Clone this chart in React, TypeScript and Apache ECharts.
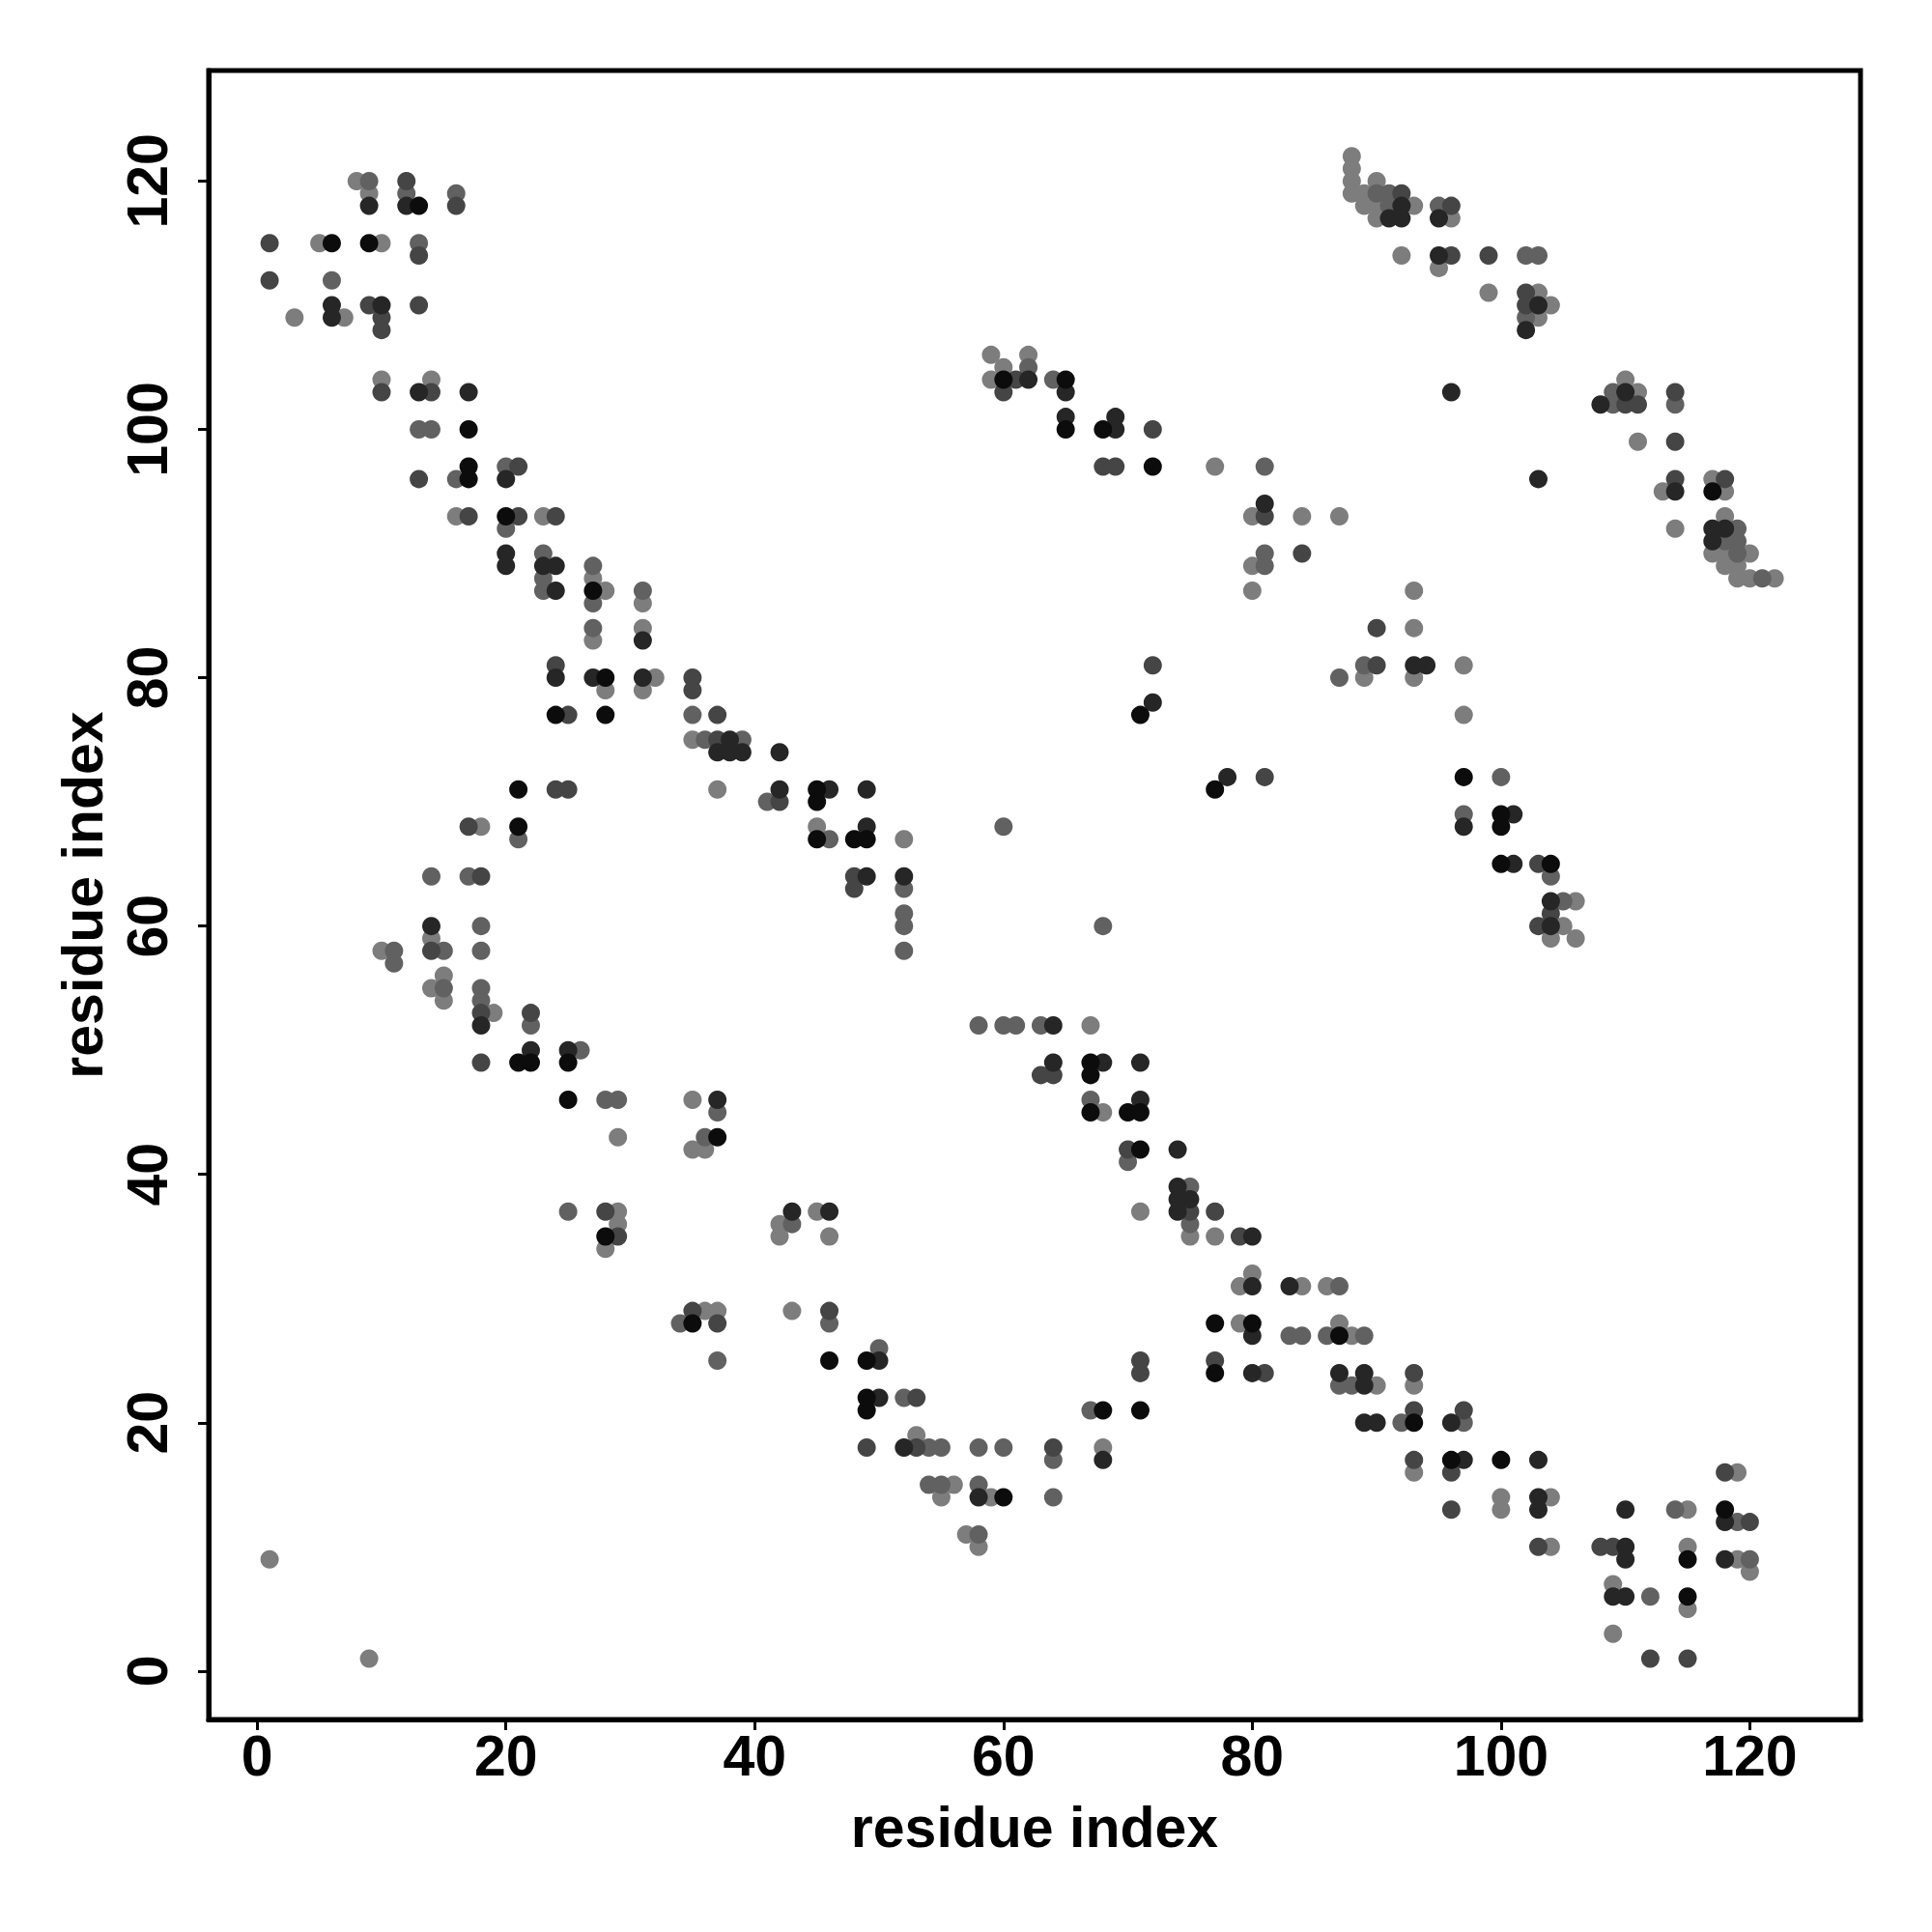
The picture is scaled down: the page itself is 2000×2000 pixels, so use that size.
import React, { useEffect, useRef } from "react";
import * as echarts from "echarts";

// residue-contact pairs [i, j], grouped by grey shade (darkest -> lightest)
const contactsBlack: [number, number][] = [
  [13,118],[6,115],[9,115],[17,100],[17,97],[17,96],[20,93],[27,87],
  [28,80],[24,77],[28,77],[21,71],[21,68],[21,49],[22,49],[25,49],[25,46],[37,43],
  [28,35],[35,28],[60,104],[65,104],[65,100],[68,100],[72,97],[71,77],
  [45,71],[45,70],[45,67],[48,67],[49,67],[77,71],[67,49],[67,48],[67,45],[70,45],[71,45],[71,42],
  [77,28],[80,28],[77,24],[71,21],[68,21],[46,25],[49,25],[49,22],[49,21],[60,14],
  [117,95],[97,72],[100,69],[100,68],[100,65],[104,65],[87,27],[93,20],[96,17],[100,17],
  [115,9],[115,6],[118,13],
];
const contactsDark: [number, number][] = [
  [9,118],[12,118],[6,110],[6,109],[10,110],[13,103],[17,103],[20,96],[20,90],[20,89],
  [23,89],[24,89],[24,87],[31,83],[24,80],[27,80],[31,80],[38,75],[37,74],[38,74],[39,74],
  [14,60],[18,52],[22,50],[25,50],[37,46],[62,104],[65,103],[65,101],[69,101],[69,100],
  [81,94],[72,78],[42,74],[42,71],[46,71],[49,71],[49,68],[49,64],[52,64],[78,72],[64,52],
  [64,49],[68,49],[71,49],[71,46],[74,42],[74,39],[74,38],[75,38],[74,37],[80,35],[80,31],
  [80,27],[80,24],[68,17],[43,37],[46,37],[50,25],[50,22],[52,18],[58,14],
  [92,118],[91,117],[92,117],[95,117],[95,114],[103,110],[102,108],[96,103],[108,102],
  [110,103],[114,95],[117,92],[118,92],[117,91],[103,96],[93,81],[94,81],[97,68],[101,69],
  [101,65],[104,62],[104,60],[83,31],[87,24],[89,24],[89,23],[89,20],[90,20],[96,20],[97,17],
  [103,17],[103,14],[103,13],[110,10],[110,9],[109,6],[110,6],[110,13],[118,12],[118,9],
];
const contactsDarkGrey: [number, number][] = [
  [12,120],[16,118],[1,115],[13,114],[1,112],[9,110],[10,109],[10,108],[13,110],[10,103],
  [14,103],[13,96],[21,97],[17,93],[21,93],[24,93],[24,81],[35,80],[35,79],[25,77],[37,77],
  [37,75],[24,71],[25,71],[17,68],[18,64],[14,58],[18,53],[22,53],[18,49],[28,37],[29,35],
  [35,29],[37,28],[61,104],[60,103],[72,100],[68,97],[69,97],[81,93],[72,81],[42,70],[48,64],
  [48,63],[81,72],[63,48],[64,48],[70,42],[75,37],[77,37],[79,35],[77,25],[81,24],[71,25],
  [71,24],[64,18],[46,29],[53,22],[49,18],[53,18],
  [92,119],[96,118],[96,114],[99,114],[102,111],[102,110],[110,102],[111,102],[114,103],
  [114,99],[114,96],[118,96],[84,90],[90,84],[90,81],[103,65],[104,61],[103,60],[93,24],
  [93,21],[97,21],[93,17],[96,16],[96,13],[103,10],[108,10],[109,10],[112,1],[115,1],[118,16],
  [120,12],
];
const contactsMidGrey: [number, number][] = [
  [9,120],[12,119],[16,119],[13,115],[6,112],[13,100],[14,100],[16,96],[20,97],[20,92],
  [23,90],[23,88],[23,87],[27,89],[27,86],[31,87],[27,84],[35,77],[36,75],[39,75],[21,67],
  [14,64],[17,64],[18,60],[11,58],[15,58],[18,58],[11,57],[15,55],[18,55],[18,54],[22,52],
  [26,50],[28,46],[29,46],[37,45],[36,43],[25,37],[34,28],[37,25],[62,105],[64,104],[81,97],
  [81,90],[81,89],[41,70],[46,67],[52,63],[52,61],[52,60],[52,58],[60,68],[68,60],[58,52],
  [60,52],[61,52],[63,52],[67,46],[70,41],[75,39],[75,36],[67,21],[64,17],[64,14],[43,36],
  [46,28],[50,26],[52,22],[54,18],[55,18],[58,18],[60,18],[54,15],[55,15],[58,15],[58,11],
  [90,119],[91,119],[91,118],[95,118],[102,114],[103,114],[102,109],[109,103],[109,102],
  [114,102],[119,92],[118,91],[119,91],[119,90],[121,88],[87,80],[89,81],[100,72],[97,69],
  [104,64],[105,62],[87,31],[83,27],[84,27],[86,27],[89,27],[87,23],[88,23],[92,20],[97,20],
  [112,6],[114,13],[119,12],[120,9],
];
const contactsLightGrey: [number, number][] = [
  [8,120],[9,119],[5,115],[10,115],[3,109],[7,109],[10,104],[14,104],[16,93],[23,93],
  [27,88],[28,87],[31,86],[27,83],[31,84],[28,79],[32,80],[31,79],[35,75],[37,71],[18,68],
  [14,59],[10,58],[15,56],[14,55],[15,54],[19,53],[35,46],[29,43],[35,42],[36,42],[29,37],
  [29,36],[28,34],[36,29],[37,29],[1,9],[9,1],[59,106],[62,106],[60,105],[59,104],[77,97],
  [80,93],[80,89],[80,87],[45,68],[52,67],[67,52],[68,45],[75,35],[71,37],[77,35],[80,32],
  [79,31],[79,28],[68,18],[42,36],[42,35],[45,37],[46,35],[43,29],[53,19],[56,15],[55,14],
  [59,14],[57,11],[58,10],
  [88,122],[88,121],[88,120],[88,119],[90,120],[89,119],[89,118],[90,118],[93,118],[90,117],
  [96,117],[92,114],[95,113],[99,111],[103,111],[104,110],[103,109],[110,104],[111,103],
  [111,99],[113,95],[117,96],[118,95],[114,92],[118,93],[117,90],[118,90],[120,90],[118,89],
  [119,89],[119,88],[120,88],[122,88],[84,93],[87,93],[93,87],[93,84],[89,80],[93,80],
  [97,81],[97,77],[106,62],[105,60],[104,59],[106,59],[84,31],[86,31],[87,28],[88,27],
  [90,23],[93,23],[93,16],[100,14],[100,13],[104,14],[104,10],[109,7],[109,3],[115,13],
  [115,10],[115,5],[119,16],[119,9],[120,8],
];

const shadeColors = ["#7d7d7d", "#616161", "#454545", "#262626", "#0c0c0c"];
const shadeData = [contactsLightGrey, contactsMidGrey, contactsDarkGrey, contactsDark, contactsBlack];
const tickValues = [0, 20, 40, 60, 80, 100, 120];
const axisTitle = "residue index";

export default function App() {
  const ref = useRef<HTMLDivElement>(null);
  useEffect(() => {
    if (!ref.current) return;
    const chart = echarts.init(ref.current, undefined, { renderer: "svg" });
    const font = {
      fontFamily: "'Liberation Sans', Arial, Helvetica, sans-serif",
      fontWeight: "bold" as const,
      fontSize: 59,
      color: "#000",
    };
    const axisCommon = {
      type: "value" as const,
      min: -3.9,
      max: 128.9,
      splitLine: { show: false },
      axisLine: { show: true, onZero: false, lineStyle: { color: "#000", width: 5 } },
      axisTick: {
        show: true,
        inside: false,
        length: 11,
        lineStyle: { color: "#000", width: 3 },
        customValues: tickValues,
      },
      name: axisTitle,
      nameLocation: "middle" as const,
      nameTextStyle: { ...font },
    };
    chart.setOption({
      animation: false,
      backgroundColor: "#fff",
      grid: {
        left: 216,
        right: 74,
        top: 73,
        bottom: 220,
        show: true,
        borderColor: "#000",
        borderWidth: 5,
        backgroundColor: "transparent",
      },
      xAxis: {
        ...axisCommon,
        nameGap: 82,
        axisLabel: { ...font, margin: 8, customValues: tickValues },
      },
      yAxis: {
        ...axisCommon,
        nameGap: 100,
        nameRotate: 90,
        axisLabel: { ...font, margin: 34, rotate: 90, customValues: tickValues },
      },
      series: shadeData.map((d, i) => ({
        type: "scatter",
        data: d,
        symbol: "circle",
        symbolSize: 19,
        itemStyle: { color: shadeColors[i], opacity: 1 },
        z: 2 + i,
      })),
    });
    return () => chart.dispose();
  }, []);
  return (
    <div
      ref={ref}
      style={{ position: "absolute", left: 0, top: 0, width: 2000, height: 2000, background: "#fff" }}
    />
  );
}
